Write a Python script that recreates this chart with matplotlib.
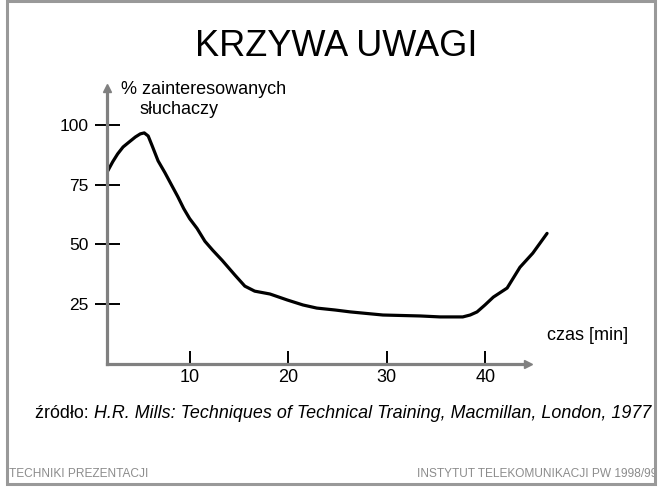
import matplotlib
matplotlib.use("Agg")
import matplotlib.pyplot as plt
from matplotlib.patches import Rectangle

plt.rcParams['font.family'] = ['Liberation Sans', 'DejaVu Sans']

# data (time in minutes, % of interested listeners)
czas = [1.7, 2.2, 2.7, 3.25, 3.75, 4.5, 5.0, 5.4, 5.8, 6.2, 6.8, 7.5, 8.2, 8.8, 9.4,
        10.0, 10.75, 11.55, 12.35, 13.3, 14.6, 15.6, 16.6, 18.15, 19.9, 21.5, 22.9,
        24.75, 26.3, 29.6, 33.4, 35.4, 37.7, 38.45, 39.15, 39.95, 40.8, 42.2, 43.5,
        44.8, 46.25]
uwaga = [80.8, 84.6, 87.9, 90.8, 92.5, 95.0, 96.3, 96.7, 95.4, 91.3, 85.0, 80.0,
         74.6, 70.0, 65.0, 60.8, 56.7, 51.3, 47.5, 43.3, 37.1, 32.5, 30.4, 29.2,
         26.7, 24.6, 23.3, 22.5, 21.7, 20.4, 20.0, 19.6, 19.6, 20.4, 21.7, 24.6,
         27.9, 31.7, 40.4, 46.3, 54.6]
x_ticks = [10, 20, 30, 40]
y_ticks = [25, 50, 75, 100]

W, H = 662, 490
fig = plt.figure(figsize=(W / 100, H / 100), dpi=100)
fig.patch.set_facecolor('white')

ax = fig.add_axes([71.3 / W, 1 - 399.5 / H, (643.2 - 71.3) / W, (399.5 - 77.3) / H])
ax.set_xlim(-2, 56)
ax.set_ylim(-15, 120)
ax.patch.set_alpha(0)

axis_col = '#808080'
x0 = 1.62
y_top = 115.5
x_end = 44.3

for s in ['top', 'right']:
    ax.spines[s].set_visible(False)
ax.spines['left'].set_position(('data', x0))
ax.spines['bottom'].set_position(('data', 0))
ax.spines['left'].set_bounds(0, y_top - 2)
ax.spines['bottom'].set_bounds(x0, x_end - 0.5)
for s in ['left', 'bottom']:
    ax.spines[s].set_color(axis_col)
    ax.spines[s].set_linewidth(2.3)
ax.plot([x0], [y_top], marker='^', color=axis_col, markersize=6, clip_on=False)
ax.plot([x_end], [0], marker='>', color=axis_col, markersize=6, clip_on=False)

ax.set_xticks(x_ticks)
ax.set_yticks(y_ticks)
ax.set_xticklabels([str(v) for v in x_ticks])
ax.set_yticklabels([str(v) for v in y_ticks])
ax.tick_params(axis='y', direction='inout', length=18, width=1.4, color='black',
               labelsize=12.5, pad=4)
ax.tick_params(axis='x', direction='in', length=9.5, width=1.4, color='black',
               labelsize=13, pad=4)

ax.plot(czas, uwaga, color='black', linewidth=2.3, solid_capstyle='round',
        solid_joinstyle='round', clip_on=False)

# texts
fig.text(336 / W, 1 - 46 / H, 'KRZYWA UWAGI', ha='center', va='center', fontsize=26)
fig.text(121 / W, 1 - 90 / H, '% zainteresowanych', ha='left', va='center', fontsize=13)
fig.text(140 / W, 1 - 110 / H, 'słuchaczy', ha='left', va='center', fontsize=13)
fig.text(547 / W, 1 - 336 / H, 'czas [min]', ha='left', va='center', fontsize=13)

t1 = fig.text(35 / W, 1 - 413 / H, 'źródło: ', ha='left', va='center', fontsize=12.85)
fig.canvas.draw()
bb = t1.get_window_extent(renderer=fig.canvas.get_renderer())
fig.text(bb.x1 / W, 1 - 413 / H,
         'H.R. Mills: Techniques of Technical Training, Macmillan, London, 1977',
         ha='left', va='center', fontsize=12.85, style='italic')

foot_col = '#8c8c8c'
fig.text(9 / W, 1 - 474 / H, 'TECHNIKI PREZENTACJI', ha='left', va='center',
         fontsize=8.6, color=foot_col)
fig.text(657 / W, 1 - 474 / H, 'INSTYTUT TELEKOMUNIKACJI PW 1998/99', ha='right',
         va='center', fontsize=8.6, color=foot_col)

# frame
fig.patches.append(Rectangle((6.5 / W, 1 - 483.5 / H), (654.5 - 6.5) / W,
                             (483.5 - 1.5) / H, transform=fig.transFigure,
                             fill=False, edgecolor='#999999', linewidth=2.2,
                             zorder=10))

fig.savefig('out.png', dpi=100, facecolor='white')
